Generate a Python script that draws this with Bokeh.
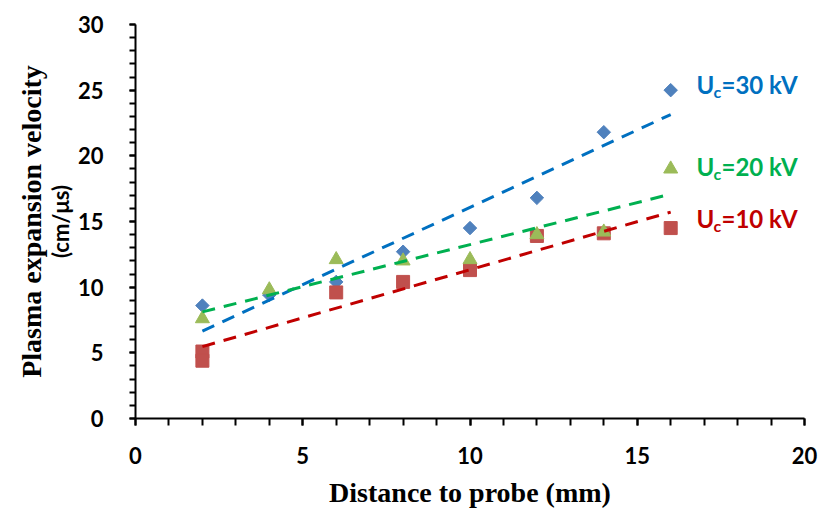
import numpy as np
from bokeh.plotting import figure
from bokeh.models import SingleIntervalTicker, FixedTicker, Range1d, LinearAxis
from bokeh.core.properties import value
from bokeh.embed import file_html
from bokeh.resources import INLINE

# ---- data ----
x_30 = [2, 4, 6, 8, 10, 12, 14, 16]
v_30 = [8.6, 9.4, 10.4, 12.7, 14.5, 16.8, 21.8, 25.0]
x_20 = [2, 4, 6, 8, 10, 12, 14, 16]
v_20 = [7.6, 9.8, 12.1, 12.0, 12.1, 14.0, 14.2, 19.0]
x_10 = [2, 2, 6, 8, 10, 12, 14, 16]
v_10 = [5.1, 4.4, 9.6, 10.4, 11.3, 13.9, 14.1, 14.5]
series_names = ["=30 kV", "=20 kV", "=10 kV"]
x_label = "Distance to probe (mm)"
y_label_1 = "Plasma expansion velocity"
y_label_2 = "(cm/\u03bcs)"

p = figure(width=819, height=510, output_backend="svg", toolbar_location=None,
           x_range=Range1d(0, 20), y_range=Range1d(0, 30),
           min_border_left=135, min_border_right=15, min_border_top=24, min_border_bottom=88)
p.outline_line_color = None
p.xgrid.visible = False
p.ygrid.visible = False
p.background_fill_color = "white"
p.border_fill_color = "white"

for ax, ticker in ((p.xaxis, SingleIntervalTicker(interval=5, num_minor_ticks=5)),
                   (p.yaxis, SingleIntervalTicker(interval=5, num_minor_ticks=5))):
    ax.ticker = ticker
    ax.axis_line_width = 2
    ax.axis_line_color = "black"
    ax.major_tick_line_width = 2
    ax.minor_tick_line_width = 2
    ax.major_tick_line_color = "black"
    ax.minor_tick_line_color = "black"
    ax.major_tick_in = 0
    ax.minor_tick_in = 0
    ax.major_label_text_font = "Lato"
    ax.major_label_text_font_style = "bold"
    ax.major_label_text_font_size = "22px"
    ax.major_label_text_color = "black"

p.xaxis.major_tick_out = 7
p.xaxis.minor_tick_out = 7
p.yaxis.major_tick_out = 6
p.yaxis.minor_tick_out = 6
p.xaxis.major_label_standoff = 21
p.yaxis.major_label_standoff = 26
p.xaxis.axis_label = x_label
p.xaxis.axis_label_text_font = "Liberation Serif"
p.xaxis.axis_label_text_font_style = "bold"
p.xaxis.axis_label_text_font_size = "28px"
p.xaxis.axis_label_text_color = "black"
p.xaxis.axis_label_standoff = 10

# inner y title line (sans)
p.yaxis.axis_label = y_label_2
p.yaxis.axis_label_text_font = "Lato"
p.yaxis.axis_label_text_font_style = "bold"
p.yaxis.axis_label_text_font_size = "22px"
p.yaxis.axis_label_text_color = "black"
p.yaxis.axis_label_standoff = 1

# outer y title line (serif) on an extra, otherwise empty axis
outer = LinearAxis(ticker=FixedTicker(ticks=[]), axis_label=y_label_1,
                   axis_line_color=None, major_tick_line_color=None, minor_tick_line_color=None,
                   major_tick_out=0, minor_tick_out=0, major_label_text_font_size="0px",
                   axis_label_text_font="Liberation Serif", axis_label_text_font_style="bold",
                   axis_label_text_font_size="28px", axis_label_text_color="black",
                   axis_label_standoff=-3)
p.add_layout(outer, "left")

# markers
p.scatter(x_30, v_30, marker="square", angle=np.pi / 4, size=9.5,
          fill_color="#4F81BD", line_color="#4F81BD")
p.scatter(x_10, v_10, marker="square", size=13,
          fill_color="#C0504D", line_color="#C0504D")
p.scatter(x_20, v_20, marker="triangle", size=14,
          fill_color="#9BBB59", line_color="#9BBB59")

# linear trend lines (least squares fits of each series)
for xs, ys, col in ((x_30, v_30, "#0070C0"), (x_20, v_20, "#00B050"), (x_10, v_10, "#C00000")):
    k, b = np.polyfit(xs, ys, 1)
    xe = np.array([min(xs), max(xs)], dtype=float)
    p.line(xe, k * xe + b, line_color=col, line_width=3, line_dash="13 9")

# series labels  U_c=.. kV
lab_y = [25.4, 19.2, 15.22]
lab_col = ["#0070C0", "#00B050", "#C00000"]
for name, yy, col in zip(series_names, lab_y, lab_col):
    p.text(x=[16.77], y=[yy], text=["U"], text_font=value("Lato"), text_font_style="bold",
           text_font_size="24px", text_color=col, text_baseline="alphabetic", text_align="left")
    p.text(x=[16.77], y=[yy], text=["c"], text_font=value("Lato"), text_font_style="bold",
           text_font_size="16px", text_color=col, text_baseline="alphabetic", text_align="left",
           x_offset=17, y_offset=7)
    p.text(x=[16.77], y=[yy], text=[name], text_font=value("Lato"), text_font_style="bold",
           text_font_size="24px", text_color=col, text_baseline="alphabetic", text_align="left",
           x_offset=25)

open("out.html", "w").write(file_html(p, INLINE))
